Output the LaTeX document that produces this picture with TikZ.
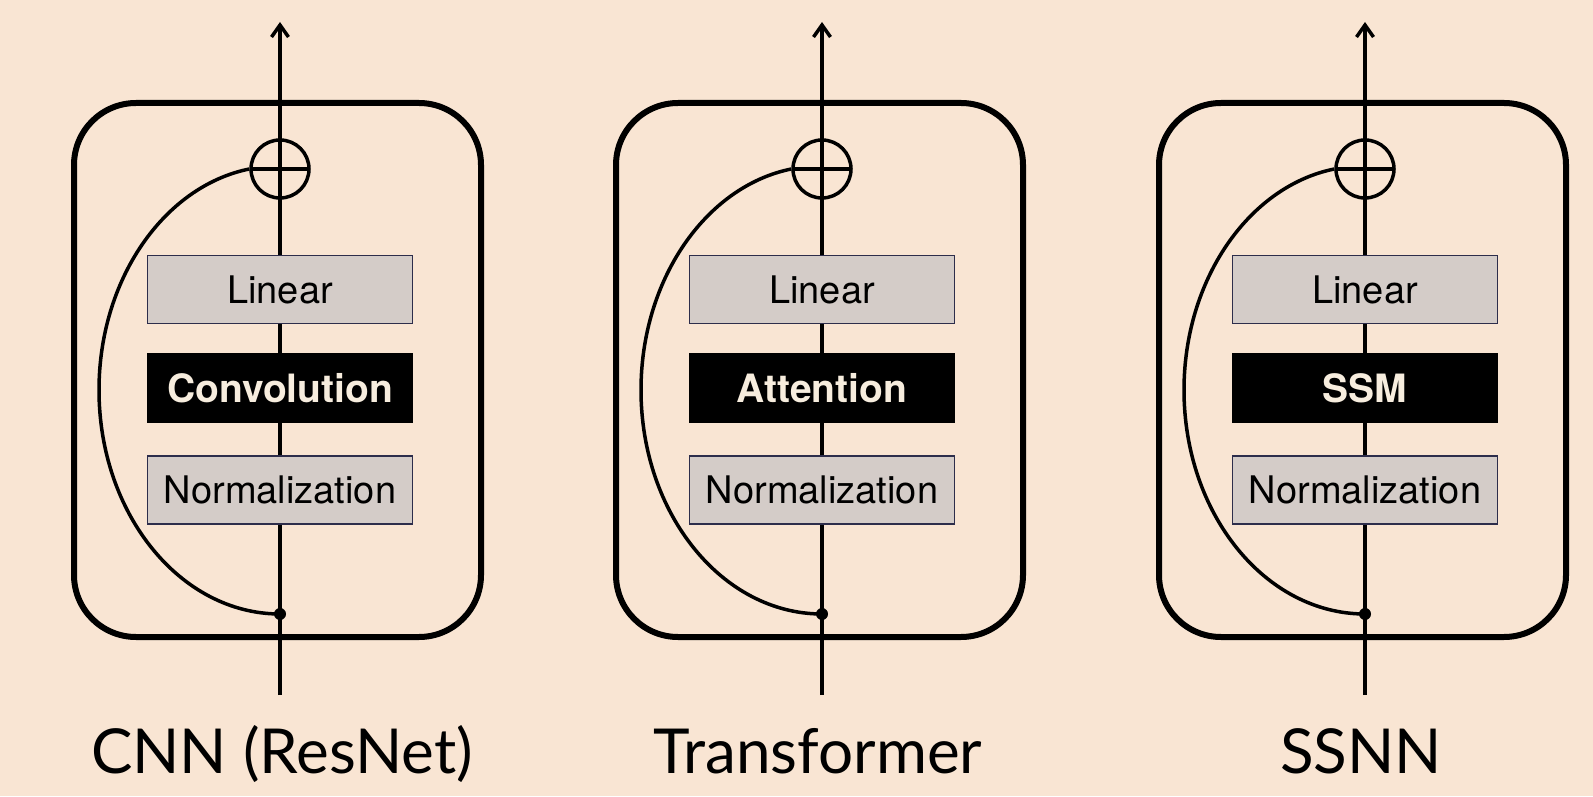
\documentclass[tikz,border=0pt]{standalone}
\usepackage{fontspec}
\setmainfont{TeX Gyre Heros}
\newfontfamily\labfont{Lato}
\usetikzlibrary{arrows.meta}
\definecolor{bg}{RGB}{249,229,211}
\definecolor{grayfill}{RGB}{212,204,200}
\definecolor{navy}{RGB}{45,45,75}
\definecolor{cream}{RGB}{247,237,222}
\begin{document}
\begin{tikzpicture}[x=1pt,y=1pt,
  outerbox/.style={draw=black, line width=6pt, rounded corners=62pt, minimum width=407pt, minimum height=534pt, inner sep=0pt},
  graybox/.style={draw=navy, fill=grayfill, line width=1.6pt, minimum width=265pt, minimum height=68pt, inner sep=0pt, font=\fontsize{38}{38}\selectfont},
  blackbox/.style={fill=black, text=cream, minimum width=266pt, minimum height=70pt, inner sep=0pt, font=\fontsize{39}{39}\selectfont\bfseries},
  flow/.style={line width=3.5pt},
  sumnode/.style={circle, draw, line width=3.5pt, minimum size=58pt, inner sep=0pt, path picture={\draw[line width=3.5pt] (path picture bounding box.west) -- (path picture bounding box.east);}},
  junction/.style={circle, fill=black, minimum size=12pt, inner sep=0pt},
  caption/.style={font=\labfont\fontsize{62}{62}\selectfont, anchor=base}
]
\fill[bg] (0,0) rectangle (1593,796);
\useasboundingbox (0,0) rectangle (1593,796);
\foreach \cx/\id/\mid/\lab/\lx in {280/a/Convolution/CNN (ResNet)/2, 822/b/Attention/Transformer/-4, 1365/c/SSM/SSNN/-4}{
  \begin{scope}[shift={(\cx,0)}]
    \node[outerbox] (box\id) at (-2.5,426) {};
    \node[graybox] (lin\id) at (0,506.5) {Linear};
    \node[blackbox] (mid\id) at (0,408) {\mid};
    \node[graybox] (norm\id) at (0,306) {Normalization};
    \node[sumnode] (sum\id) at (0,627) {};
    \node[junction] (dot\id) at (0,182) {};
    \coordinate (in\id) at (0,101);
    \coordinate (out\id) at (0,774);
    \draw[flow] (in\id) -- (dot\id.center) -- (norm\id);
    \draw[flow] (norm\id) -- (mid\id);
    \draw[flow] (mid\id) -- (lin\id);
    \draw[flow, -{Straight Barb[length=12pt, width=17pt]}] (lin\id) -- (out\id);
    \draw[flow] (dot\id.center) .. controls (-99.9,182) and (-181,282.4) .. (-181,406)
                 .. controls (-181,515.9) and (-116.6,609.5) .. (sum\id.west);
    \node[caption] (cap\id) at (\lx,23) {\lab};
  \end{scope}
}
\end{tikzpicture}
\end{document}
